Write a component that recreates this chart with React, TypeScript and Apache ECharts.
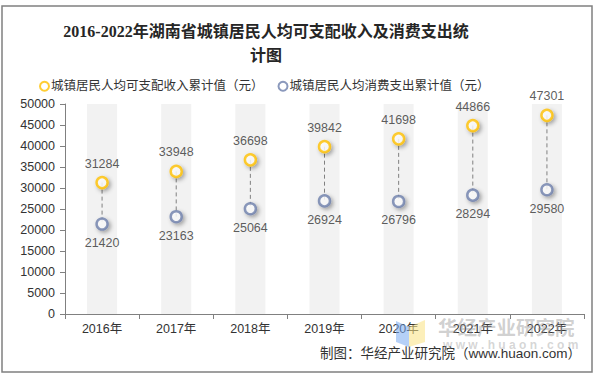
import React, { useEffect, useRef } from "react";
import * as echarts from "echarts";

const categories = ["2016年", "2017年", "2018年", "2019年", "2020年", "2021年", "2022年"];
const incomeValues = [31284, 33948, 36698, 39842, 41698, 44866, 47301];
const expenseValues = [21420, 23163, 25064, 26924, 26796, 28294, 29580];
const backgroundValues = [50000, 50000, 50000, 50000, 50000, 50000, 50000];
const incomeName = "城镇居民人均可支配收入累计值（元）";
const expenseName = "城镇居民人均消费支出累计值（元）";
const titleText = "2016-2022年湖南省城镇居民人均可支配收入及消费支出统\n计图";
const sourceText = "制图：华经产业研究院（www.huaon.com）";

const YELLOW = "#FFC000";
const BLUE = "#6E80AB";
const FONT = "Arial, 'Liberation Sans', 'Noto Sans CJK SC', sans-serif";

export default function App() {
  const ref = useRef<HTMLDivElement>(null);
  useEffect(() => {
    if (!ref.current) return;
    const chart = echarts.init(ref.current, undefined, { renderer: "svg" });
    const shadow = {
      shadowColor: "rgba(0,0,0,0.4)",
      shadowBlur: 4,
      shadowOffsetX: 2,
      shadowOffsetY: 2,
    };
    chart.setOption({
      animation: false,
      backgroundColor: "#ffffff",
      title: {
        text: titleText,
        left: 261,
        top: 14,
        textAlign: "center",
        textStyle: {
          fontFamily: "'Liberation Serif', 'Noto Sans CJK SC', serif",
          fontSize: 16,
          fontWeight: "bold",
          color: "#262626",
          lineHeight: 24,
        },
      },
      legend: {
        left: 34,
        top: 75,
        itemWidth: 9,
        itemHeight: 9,
        itemGap: 14,
        icon: "circle",
        textStyle: { fontFamily: FONT, fontSize: 12.5, color: "#333333", padding: [0, 0, 0, -3] },
        data: [
          { name: incomeName, itemStyle: { color: "#ffffff", borderColor: YELLOW, borderWidth: 2 } },
          { name: expenseName, itemStyle: { color: "#ffffff", borderColor: BLUE, borderWidth: 2 } },
        ],
      },
      grid: { left: 65, right: 11, top: 104, bottom: 60, outerBoundsMode: "none", containLabel: false },
      xAxis: {
        type: "category",
        data: categories,
        axisLine: { lineStyle: { color: "#808080", width: 1 } },
        axisTick: { show: true, lineStyle: { color: "#808080" }, length: 5 },
        axisLabel: { fontFamily: FONT, fontSize: 12.5, color: "#333333", margin: 9 },
      },
      yAxis: {
        type: "value",
        min: 0,
        max: 50000,
        interval: 5000,
        splitLine: { show: false },
        axisLine: { show: true, lineStyle: { color: "#808080", width: 1 } },
        axisTick: { show: true, lineStyle: { color: "#808080" }, length: 5 },
        axisLabel: {
          fontFamily: FONT,
          fontSize: 12.5,
          color: "#333333",
          margin: 10,
          formatter: (v: number) => String(v),
        },
      },
      series: [
        {
          type: "bar",
          name: "bg",
          data: backgroundValues,
          barWidth: 30,
          silent: true,
          itemStyle: { color: "#f2f2f2" },
          z: 1,
        },
        {
          type: "custom",
          name: "connector",
          silent: true,
          data: categories.map((_, i) => [i, incomeValues[i], expenseValues[i]]),
          renderItem: (params: any, api: any) => {
            const p1 = api.coord([api.value(0), api.value(1)]);
            const p2 = api.coord([api.value(0), api.value(2)]);
            return {
              type: "line",
              shape: { x1: p1[0], y1: p1[1], x2: p2[0], y2: p2[1] },
              style: { stroke: "#808080", lineWidth: 1, lineDash: [4, 3] },
            };
          },
          z: 2,
        },
        {
          type: "scatter",
          name: incomeName,
          data: incomeValues,
          symbol: "circle",
          symbolSize: 11,
          itemStyle: { color: "#ffffff", borderColor: YELLOW, borderWidth: 2.5, ...shadow },
          label: {
            show: true,
            position: "top",
            distance: 6,
            fontFamily: FONT,
            fontSize: 12.5,
            color: "#333333",
          },
          z: 3,
        },
        {
          type: "scatter",
          name: expenseName,
          data: expenseValues,
          symbol: "circle",
          symbolSize: 11,
          itemStyle: { color: "#ffffff", borderColor: BLUE, borderWidth: 2.5, ...shadow },
          label: {
            show: true,
            position: "bottom",
            distance: 6,
            fontFamily: FONT,
            fontSize: 12.5,
            color: "#333333",
          },
          z: 3,
        },
      ],
      graphic: [
        {
          type: "rect",
          shape: { x: 2, y: 6, width: 590, height: 366 },
          style: { fill: "none", stroke: "#808080", lineWidth: 1.5 },
          silent: true,
          z: 0,
        },
        {
          type: "text",
          right: 14,
          top: 347,
          style: { text: sourceText, fontFamily: FONT, fontSize: 13.5, fill: "#333333" },
          z: 10,
        },
        {
          type: "polygon",
          shape: { points: [[396, 321], [409, 327], [409, 347], [396, 342]] },
          style: { fill: "rgba(120,170,240,0.55)" },
          silent: true,
          z: 20,
        },
        {
          type: "polygon",
          shape: { points: [[409, 327], [425, 320], [425, 342], [409, 347]] },
          style: { fill: "rgba(250,225,130,0.55)" },
          silent: true,
          z: 20,
        },
        {
          type: "text",
          left: 438,
          top: 317,
          style: {
            text: "华经产业研究院",
            fontFamily: "'Noto Sans CJK SC', sans-serif",
            fontSize: 19.5,
            fontWeight: "bold",
            fill: "rgba(150,150,150,0.45)",
          },
          silent: true,
          z: 20,
        },
        {
          type: "text",
          left: 443,
          top: 339,
          style: {
            text: "w w w . h u a o n . c o m",
            fontFamily: FONT,
            fontSize: 12,
            fontWeight: "bold",
            fill: "rgba(150,150,150,0.4)",
          },
          silent: true,
          z: 20,
        },
      ],
    });
    return () => chart.dispose();
  }, []);
  return (
    <div
      ref={ref}
      style={{ position: "fixed", left: 0, top: 0, width: 595, height: 374 }}
    />
  );
}
